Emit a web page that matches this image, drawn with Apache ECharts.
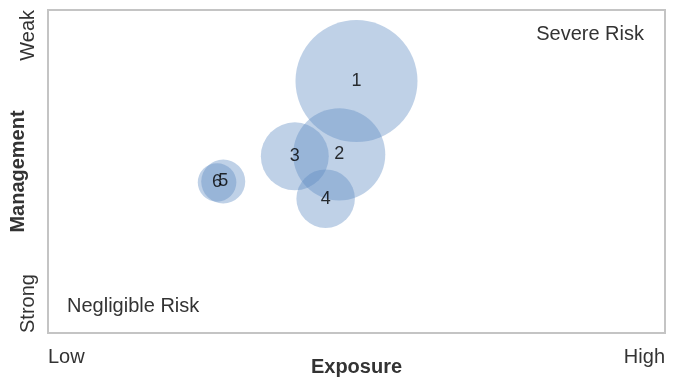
<!DOCTYPE html>
<html lang="en">
<head>
    <meta charset="UTF-8">
    <title>Risk bubbles</title>
    <script src="https://cdn.jsdelivr.net/npm/echarts@6/dist/echarts.min.js"></script>
    <style>
        html, body { margin: 0; padding: 0; background: #fff; }
        #container { width: 675px; height: 378px; }
    </style>
</head>
<body>
    <div id="container"></div>
<script>
    // bubble data (0..10 scale both ways)
    var names = ['1', '2', '3', '4', '5', '6'];
    var exposure = [5.0, 4.72, 4.0, 4.5, 2.84, 2.74];
    var management = [7.8, 5.53, 5.47, 4.16, 4.69, 4.66];
    var sizes = [100, 57, 31, 23, 13, 10];

    var xTickLabels = ['Low', 'High'];
    var yTickLabels = ['Strong', 'Weak'];

    var font = 'Liberation Sans, Arial, sans-serif';

    var data = names.map(function (n, i) {
        return [exposure[i], management[i], sizes[i], n];
    });

    var myChart = echarts.init(document.getElementById('container'));
    var option = {
        animation: false,
        textStyle: { fontFamily: font },
        grid: {
            left: 48, top: 10, right: 10, bottom: 45,
            outerBoundsMode: 'none',
            containLabel: false,
            show: true,
            borderColor: '#c4c4c4',
            borderWidth: 2
        },
        xAxis: {
            type: 'value', min: 0, max: 10, interval: 10,
            name: 'Exposure',
            nameLocation: 'middle',
            nameGap: 24,
            nameMoveOverlap: false,
            nameTextStyle: { fontSize: 20, fontWeight: 'bold', color: '#333' },
            axisLine: { show: false },
            axisTick: { show: false },
            splitLine: { show: false },
            axisLabel: {
                fontSize: 20, color: '#333', margin: 14,
                alignMinLabel: 'left', alignMaxLabel: 'right',
                formatter: function (v) { return v === 0 ? xTickLabels[0] : xTickLabels[1]; }
            }
        },
        yAxis: {
            type: 'value', min: 0, max: 10, interval: 10,
            name: 'Management',
            nameLocation: 'middle',
            nameGap: 20,
            nameMoveOverlap: false,
            nameTextStyle: { fontSize: 20, fontWeight: 'bold', color: '#333' },
            axisLine: { show: false },
            axisTick: { show: false },
            splitLine: { show: false },
            axisLabel: {
                fontSize: 20, color: '#333', margin: 10, rotate: 90,
                alignMinLabel: 'left', alignMaxLabel: 'right',
                formatter: function (v) { return v === 0 ? yTickLabels[0] : yTickLabels[1]; }
            }
        },
        graphic: [
            { type: 'text', right: 31, top: 24,
              style: { text: 'Severe Risk', font: '20px ' + font, fill: '#333' } },
            { type: 'text', left: 67, top: 296,
              style: { text: 'Negligible Risk', font: '20px ' + font, fill: '#333' } }
        ],
        series: [{
            type: 'scatter',
            data: data,
            symbolSize: function (d) { return 12.2 * Math.sqrt(d[2]); },
            itemStyle: { color: 'rgba(94,140,196,0.5)' },
            label: {
                show: true, position: 'inside',
                color: '#000', fontSize: 18,
                formatter: function (p) { return p.data[3]; }
            },
            emphasis: { disabled: true }
        }]
    };
    myChart.setOption(option);
</script>
</body>
</html>
